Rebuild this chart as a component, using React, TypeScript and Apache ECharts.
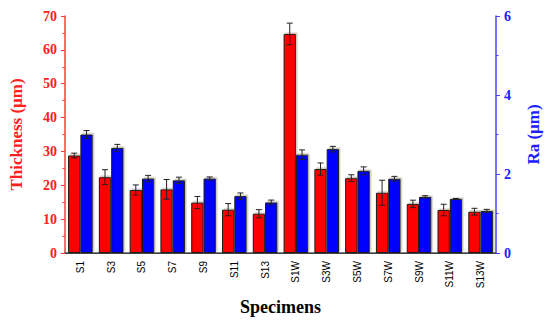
import React, { useEffect, useRef } from "react";
import * as echarts from "echarts";

const categories = ["S1", "S3", "S5", "S7", "S9", "S11", "S13", "S1W", "S3W", "S5W", "S7W", "S9W", "S11W", "S13W"];
const thickness = [28.8, 22.4, 18.6, 18.8, 14.9, 12.8, 11.6, 64.7, 24.8, 22.1, 17.8, 14.5, 12.7, 12.2];
const thicknessErr = [0.7, 2.2, 1.5, 2.9, 1.8, 1.8, 1.2, 3.2, 1.8, 1.0, 3.7, 1.1, 1.7, 1.0];
const ra = [3.0, 2.66, 1.885, 1.84, 1.885, 1.44, 1.28, 2.49, 2.63, 2.08, 1.88, 1.42, 1.37, 1.065];
const raErr = [0.1, 0.09, 0.08, 0.08, 0.04, 0.08, 0.06, 0.12, 0.07, 0.1, 0.06, 0.03, 0.01, 0.04];
const leftTicks = { min: 0, max: 70, interval: 10 };
const rightTicks = { min: 0, max: 6, interval: 2 };

const SERIF = "'Liberation Serif', 'Times New Roman', serif";
const SANS = "'Liberation Sans', Arial, sans-serif";
const RED_AXIS = "#ff3b3b";
const BLUE_AXIS = "#4444ff";

function errorRender(offsetFrac: number) {
  return (params: any, api: any) => {
    const i = api.value(0);
    const lo = api.coord([i, api.value(1)]);
    const hi = api.coord([i, api.value(2)]);
    const band = api.size([1, 0])[0];
    const x = lo[0] + band * offsetFrac;
    const cap = 3;
    const style = { stroke: "#222", lineWidth: 1 };
    return {
      type: "group",
      children: [
        { type: "line", shape: { x1: x, y1: lo[1], x2: x, y2: hi[1] }, style },
        { type: "line", shape: { x1: x - cap, y1: lo[1], x2: x + cap, y2: lo[1] }, style },
        { type: "line", shape: { x1: x - cap, y1: hi[1], x2: x + cap, y2: hi[1] }, style },
      ],
    };
  };
}

export default function App() {
  const ref = useRef<HTMLDivElement>(null);
  useEffect(() => {
    if (!ref.current) return;
    const chart = echarts.init(ref.current, null, { renderer: "svg" });
    const barStyle = (color: string) => ({
      color,
      borderColor: "#1a1a1a",
      borderWidth: 1,
      shadowColor: "rgba(160,160,140,0.55)",
      shadowOffsetX: 1.5,
      shadowOffsetY: -1.5,
      shadowBlur: 0,
    });
    chart.setOption({
      animation: false,
      grid: { left: 55, right: 47, top: 16, bottom: 61 },
      xAxis: [
        {
          type: "category",
          data: categories,
          position: "bottom",
          name: "Specimens",
          nameLocation: "middle",
          nameGap: 45,
          nameTextStyle: { fontFamily: SERIF, fontWeight: "bold", fontSize: 18, color: "#000" },
          axisLine: { lineStyle: { color: "#000", width: 1 } },
          axisTick: { alignWithLabel: true, length: 4, lineStyle: { color: "#000" } },
          axisLabel: { rotate: 90, fontFamily: SANS, fontSize: 10, color: "#000", margin: 8 },
          splitLine: { show: false },
        },
        {
          type: "category",
          data: categories,
          position: "top",
          axisLine: { lineStyle: { color: "#555", width: 1.5 } },
          axisTick: { show: false },
          axisLabel: { show: false },
          splitLine: { show: false },
        },
      ],
      yAxis: [
        {
          type: "value",
          min: leftTicks.min,
          max: leftTicks.max,
          interval: leftTicks.interval,
          name: "Thickness (μm)",
          nameLocation: "middle",
          nameGap: 40,
          nameRotate: 90,
          nameTextStyle: { fontFamily: SERIF, fontWeight: "bold", fontSize: 17, color: "#ff2020" },
          axisLine: { show: true, lineStyle: { color: RED_AXIS, width: 1.5 } },
          axisTick: { show: true, length: 4, lineStyle: { color: RED_AXIS } },
          minorTick: { show: true, splitNumber: 2, length: 2.5, lineStyle: { color: RED_AXIS } },
          axisLabel: { fontFamily: SERIF, fontWeight: "bold", fontSize: 14, color: "#ff2020", margin: 8 },
          splitLine: { show: false },
        },
        {
          type: "value",
          position: "right",
          min: rightTicks.min,
          max: rightTicks.max,
          interval: rightTicks.interval,
          name: "Ra (μm)",
          nameLocation: "middle",
          nameGap: 29,
          nameRotate: 90,
          nameTextStyle: { fontFamily: SERIF, fontWeight: "bold", fontSize: 17, color: "#2020ff" },
          axisLine: { show: true, lineStyle: { color: BLUE_AXIS, width: 1.5 } },
          axisTick: { show: true, length: 4, lineStyle: { color: BLUE_AXIS } },
          minorTick: { show: true, splitNumber: 2, length: 2.5, lineStyle: { color: BLUE_AXIS } },
          axisLabel: { fontFamily: SERIF, fontWeight: "bold", fontSize: 14, color: "#2020ff", margin: 8 },
          splitLine: { show: false },
        },
      ],
      series: [
        {
          type: "bar",
          name: "Thickness",
          xAxisIndex: 0,
          yAxisIndex: 0,
          data: thickness,
          barGap: "0%",
          barCategoryGap: "20%",
          itemStyle: barStyle("#ff0000"),
        },
        {
          type: "bar",
          name: "Ra",
          xAxisIndex: 0,
          yAxisIndex: 1,
          data: ra,
          barGap: "0%",
          barCategoryGap: "20%",
          itemStyle: barStyle("#0000ff"),
        },
        {
          type: "custom",
          xAxisIndex: 0,
          yAxisIndex: 0,
          data: thickness.map((v, i) => [i, v - thicknessErr[i], v + thicknessErr[i]]),
          renderItem: errorRender(-0.2),
          z: 10,
        },
        {
          type: "custom",
          xAxisIndex: 0,
          yAxisIndex: 1,
          data: ra.map((v, i) => [i, v - raErr[i], v + raErr[i]]),
          renderItem: errorRender(0.2),
          z: 10,
        },
      ],
    });
    return () => chart.dispose();
  }, []);
  return <div ref={ref} style={{ position: "fixed", left: 0, top: 0, width: 550, height: 321, background: "#fff" }} />;
}
